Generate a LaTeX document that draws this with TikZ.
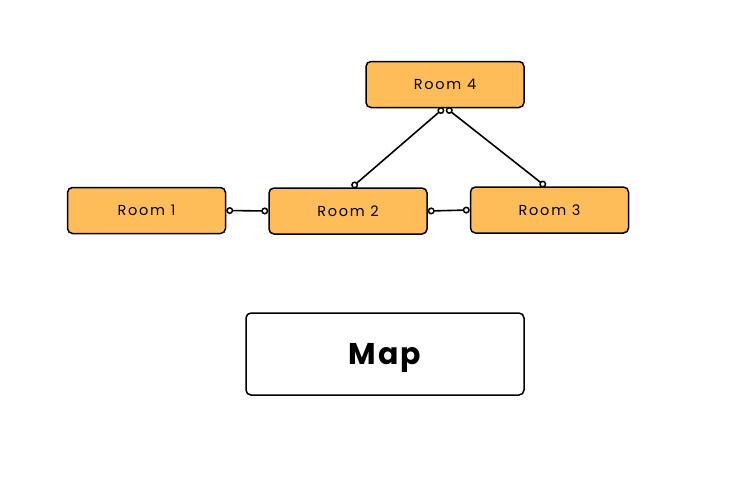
\documentclass[tikz,border=0pt]{standalone}
\usepackage{fontspec}
\setmainfont{Poppins}
\newfontfamily\roomfont[LetterSpace=12]{Poppins}
\newfontfamily\mapfont[LetterSpace=7]{Poppins}
\usetikzlibrary{arrows.meta}
\definecolor{roomfill}{RGB}{255,189,89}
\begin{document}
\begin{tikzpicture}[x=1pt,y=-1pt,
  room/.style={draw=black, line width=1.5pt, fill=roomfill, rounded corners=5pt,
    minimum width=158pt, minimum height=46pt, inner sep=0pt,
    text height=10.5pt, text depth=0pt,
    font=\roomfont\fontsize{14.5}{16}\selectfont},
  mapbox/.style={draw=black, line width=1.5pt, fill=white, rounded corners=5pt,
    minimum width=278pt, minimum height=82pt, inner sep=0pt,
    text height=21pt, text depth=0pt,
    font=\mapfont\fontsize{30}{34}\selectfont\bfseries},
  link/.style={line width=1.6pt, {Circle[open,length=7pt,width=7pt,line width=1.5pt]}-{Circle[open,length=7pt,width=7pt,line width=1.5pt]}}
]
\useasboundingbox[fill=white] (0,0) rectangle (752,480);
\node[room] (r1) at (146.5,210.5) {Room 1};
\node[room] (r2) at (348,211) {Room 2};
\node[room] (r3) at (549.5,210) {Room 3};
\node[room] (r4) at (445,84.5) {Room 4};
\node[mapbox] (map) at (385,354) {Map};
\draw[link] (r1.east) -- (r2.west);
\draw[link] (r2.east) -- (r3.west);
\draw[link] ([xshift=-1.5pt]r4.south) -- ([xshift=4pt]r2.north);
\draw[link] ([xshift=1.5pt]r4.south) -- ([xshift=-4pt]r3.north);
\end{tikzpicture}
\end{document}
